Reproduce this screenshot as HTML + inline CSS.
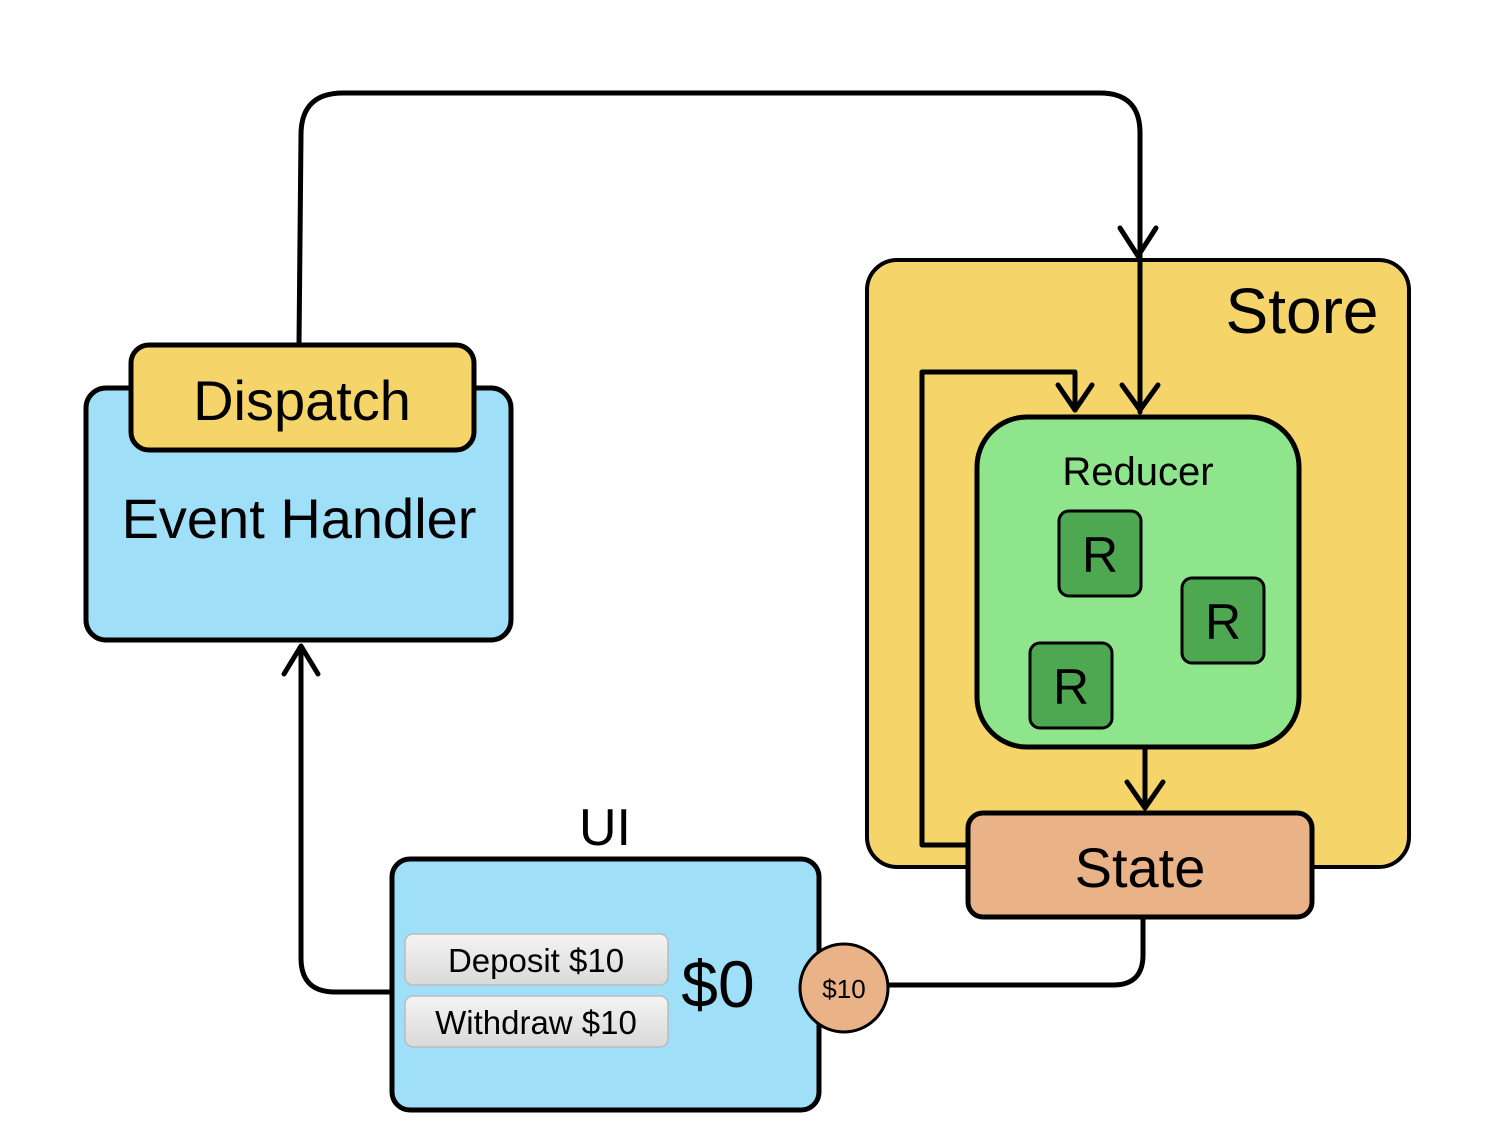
<!DOCTYPE html>
<html><head><style>body{margin:0;background:#fff}svg{display:block}text{font-family:"Liberation Sans",sans-serif}</style></head><body>
<svg width="1498" height="1124" viewBox="0 0 1498 1124" xmlns="http://www.w3.org/2000/svg">
<defs><linearGradient id="b" x1="0" y1="0" x2="0" y2="1"><stop offset="0" stop-color="#f4f4f4"/><stop offset="1" stop-color="#d9d9d9"/></linearGradient></defs>
<g fill="none" stroke="#000" stroke-width="5" stroke-linecap="round" stroke-linejoin="round">
<path d="M299 345 L301 135 Q301 93 343 93 L1100 93 Q1140 93 1140 133 L1140 415"/>
<path d="M1120 228 L1138 256 L1156 228"/>
</g>
<rect x="867" y="260" width="542" height="607" rx="30" fill="#f5d469" stroke="#000" stroke-width="4"/>
<text x="1302" y="333" font-size="64" text-anchor="middle">Store</text>
<g fill="none" stroke="#000" stroke-width="5" stroke-linecap="round" stroke-linejoin="round">
<path d="M1140 260 L1140 412"/>
<path d="M1122 385 L1140 410 L1158 385"/>
<path d="M965 845 L922 845 L922 372 L1075 372 L1075 410"/>
<path d="M1058 385 L1075 410 L1092 385"/>
<path d="M1145 745 L1145 808"/>
<path d="M1127 782 L1145 808 L1163 782"/>
<path d="M1143 917 L1143 955 Q1143 985 1113 985 L886 985"/>
<path d="M392 992 L335 992 Q301 992 301 958 L301 648"/>
<path d="M284 674 L301 646 L318 674"/>
</g>
<rect x="977" y="417" width="322" height="330" rx="50" fill="#8ee58c" stroke="#000" stroke-width="5"/>
<text x="1138" y="485" font-size="40" text-anchor="middle">Reducer</text>
<g fill="#4da851" stroke="#000" stroke-width="3">
<rect x="1059" y="511" width="82" height="85" rx="10"/>
<rect x="1182" y="578" width="82" height="85" rx="10"/>
<rect x="1030" y="643" width="82" height="85" rx="10"/>
</g>
<g font-size="50" text-anchor="middle">
<text x="1100" y="572">R</text><text x="1223" y="639">R</text><text x="1071" y="704">R</text>
</g>
<rect x="968" y="813" width="344" height="104" rx="15" fill="#eab287" stroke="#000" stroke-width="5"/>
<text x="1140" y="887" font-size="56" text-anchor="middle">State</text>
<rect x="86" y="388" width="425" height="252" rx="20" fill="#9fdff8" stroke="#000" stroke-width="5"/>
<rect x="131" y="345" width="343" height="105" rx="18" fill="#f5d469" stroke="#000" stroke-width="5"/>
<text x="302" y="420" font-size="56" text-anchor="middle">Dispatch</text>
<text x="299" y="538" font-size="56" text-anchor="middle">Event Handler</text>
<text x="605" y="845" font-size="52" text-anchor="middle">UI</text>
<rect x="392" y="859" width="427" height="251" rx="18" fill="#9fdff8" stroke="#000" stroke-width="5"/>
<rect x="405" y="934" width="263" height="51" rx="8" fill="url(#b)" stroke="#bbb" stroke-width="1.5"/>
<rect x="405" y="996" width="263" height="51" rx="8" fill="url(#b)" stroke="#bbb" stroke-width="1.5"/>
<text x="536" y="972" font-size="33" text-anchor="middle">Deposit $10</text>
<text x="536" y="1034" font-size="33" text-anchor="middle">Withdraw $10</text>
<text x="718" y="1007" font-size="66" text-anchor="middle">$0</text>
<circle cx="844" cy="988" r="44" fill="#eab287" stroke="#000" stroke-width="3"/>
<text x="844" y="998" font-size="26" text-anchor="middle">$10</text>
</svg>
</body></html>
